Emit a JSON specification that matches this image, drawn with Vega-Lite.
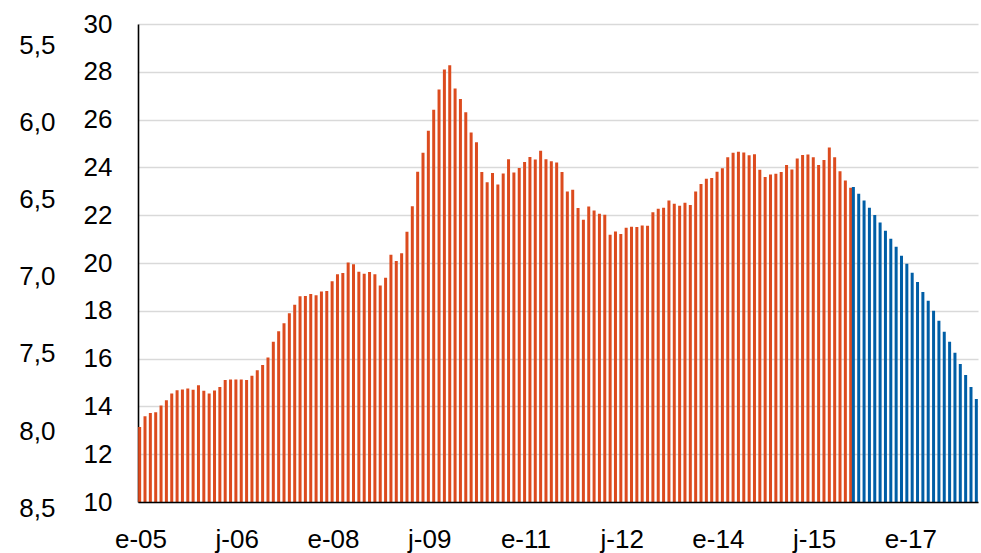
{
  "$schema": "https://vega.github.io/schema/vega-lite/v6.json",
  "autosize": {"type": "none"},
  "padding": {"left": 138, "top": 24, "right": 3, "bottom": 51},
  "width": 840,
  "height": 478,
  "config": {
    "font": "Liberation Sans",
    "view": {"stroke": null},
    "axis": {"labelColor": "#000000", "labelFontSize": 26, "labelFont": "Liberation Sans"}
  },
  "layer": [
    {
      "data": {"values": [
        {"mes":"2005-01","v":13.14,"serie":"hist"},{"mes":"2005-02","v":13.59,"serie":"hist"},{"mes":"2005-03","v":13.72,"serie":"hist"},{"mes":"2005-04","v":13.76,"serie":"hist"},{"mes":"2005-05","v":14.04,"serie":"hist"},{"mes":"2005-06","v":14.26,"serie":"hist"},{"mes":"2005-07","v":14.54,"serie":"hist"},{"mes":"2005-08","v":14.68,"serie":"hist"},{"mes":"2005-09","v":14.71,"serie":"hist"},{"mes":"2005-10","v":14.75,"serie":"hist"},{"mes":"2005-11","v":14.70,"serie":"hist"},{"mes":"2005-12","v":14.88,"serie":"hist"},
        {"mes":"2006-01","v":14.65,"serie":"hist"},{"mes":"2006-02","v":14.54,"serie":"hist"},{"mes":"2006-03","v":14.67,"serie":"hist"},{"mes":"2006-04","v":14.81,"serie":"hist"},{"mes":"2006-05","v":15.10,"serie":"hist"},{"mes":"2006-06","v":15.13,"serie":"hist"},{"mes":"2006-07","v":15.13,"serie":"hist"},{"mes":"2006-08","v":15.13,"serie":"hist"},{"mes":"2006-09","v":15.10,"serie":"hist"},{"mes":"2006-10","v":15.28,"serie":"hist"},{"mes":"2006-11","v":15.51,"serie":"hist"},{"mes":"2006-12","v":15.73,"serie":"hist"},
        {"mes":"2007-01","v":16.05,"serie":"hist"},{"mes":"2007-02","v":16.71,"serie":"hist"},{"mes":"2007-03","v":17.14,"serie":"hist"},{"mes":"2007-04","v":17.48,"serie":"hist"},{"mes":"2007-05","v":17.90,"serie":"hist"},{"mes":"2007-06","v":18.25,"serie":"hist"},{"mes":"2007-07","v":18.61,"serie":"hist"},{"mes":"2007-08","v":18.62,"serie":"hist"},{"mes":"2007-09","v":18.70,"serie":"hist"},{"mes":"2007-10","v":18.65,"serie":"hist"},{"mes":"2007-11","v":18.81,"serie":"hist"},{"mes":"2007-12","v":18.83,"serie":"hist"},
        {"mes":"2008-01","v":19.24,"serie":"hist"},{"mes":"2008-02","v":19.53,"serie":"hist"},{"mes":"2008-03","v":19.58,"serie":"hist"},{"mes":"2008-04","v":20.02,"serie":"hist"},{"mes":"2008-05","v":19.95,"serie":"hist"},{"mes":"2008-06","v":19.63,"serie":"hist"},{"mes":"2008-07","v":19.55,"serie":"hist"},{"mes":"2008-08","v":19.62,"serie":"hist"},{"mes":"2008-09","v":19.53,"serie":"hist"},{"mes":"2008-10","v":19.06,"serie":"hist"},{"mes":"2008-11","v":19.38,"serie":"hist"},{"mes":"2008-12","v":20.34,"serie":"hist"},
        {"mes":"2009-01","v":20.08,"serie":"hist"},{"mes":"2009-02","v":20.41,"serie":"hist"},{"mes":"2009-03","v":21.31,"serie":"hist"},{"mes":"2009-04","v":22.37,"serie":"hist"},{"mes":"2009-05","v":23.82,"serie":"hist"},{"mes":"2009-06","v":24.61,"serie":"hist"},{"mes":"2009-07","v":25.53,"serie":"hist"},{"mes":"2009-08","v":26.41,"serie":"hist"},{"mes":"2009-09","v":27.26,"serie":"hist"},{"mes":"2009-10","v":28.10,"serie":"hist"},{"mes":"2009-11","v":28.27,"serie":"hist"},{"mes":"2009-12","v":27.30,"serie":"hist"},
        {"mes":"2010-01","v":26.86,"serie":"hist"},{"mes":"2010-02","v":26.31,"serie":"hist"},{"mes":"2010-03","v":25.46,"serie":"hist"},{"mes":"2010-04","v":25.05,"serie":"hist"},{"mes":"2010-05","v":23.81,"serie":"hist"},{"mes":"2010-06","v":23.38,"serie":"hist"},{"mes":"2010-07","v":23.77,"serie":"hist"},{"mes":"2010-08","v":23.28,"serie":"hist"},{"mes":"2010-09","v":23.75,"serie":"hist"},{"mes":"2010-10","v":24.34,"serie":"hist"},{"mes":"2010-11","v":23.79,"serie":"hist"},{"mes":"2010-12","v":23.97,"serie":"hist"},
        {"mes":"2011-01","v":24.23,"serie":"hist"},{"mes":"2011-02","v":24.44,"serie":"hist"},{"mes":"2011-03","v":24.33,"serie":"hist"},{"mes":"2011-04","v":24.70,"serie":"hist"},{"mes":"2011-05","v":24.34,"serie":"hist"},{"mes":"2011-06","v":24.26,"serie":"hist"},{"mes":"2011-07","v":24.20,"serie":"hist"},{"mes":"2011-08","v":23.81,"serie":"hist"},{"mes":"2011-09","v":22.99,"serie":"hist"},{"mes":"2011-10","v":23.06,"serie":"hist"},{"mes":"2011-11","v":22.30,"serie":"hist"},{"mes":"2011-12","v":21.81,"serie":"hist"},
        {"mes":"2012-01","v":22.36,"serie":"hist"},{"mes":"2012-02","v":22.20,"serie":"hist"},{"mes":"2012-03","v":22.06,"serie":"hist"},{"mes":"2012-04","v":22.02,"serie":"hist"},{"mes":"2012-05","v":21.18,"serie":"hist"},{"mes":"2012-06","v":21.32,"serie":"hist"},{"mes":"2012-07","v":21.21,"serie":"hist"},{"mes":"2012-08","v":21.48,"serie":"hist"},{"mes":"2012-09","v":21.52,"serie":"hist"},{"mes":"2012-10","v":21.51,"serie":"hist"},{"mes":"2012-11","v":21.57,"serie":"hist"},{"mes":"2012-12","v":21.56,"serie":"hist"},
        {"mes":"2013-01","v":22.12,"serie":"hist"},{"mes":"2013-02","v":22.27,"serie":"hist"},{"mes":"2013-03","v":22.31,"serie":"hist"},{"mes":"2013-04","v":22.61,"serie":"hist"},{"mes":"2013-05","v":22.48,"serie":"hist"},{"mes":"2013-06","v":22.40,"serie":"hist"},{"mes":"2013-07","v":22.52,"serie":"hist"},{"mes":"2013-08","v":22.43,"serie":"hist"},{"mes":"2013-09","v":22.99,"serie":"hist"},{"mes":"2013-10","v":23.31,"serie":"hist"},{"mes":"2013-11","v":23.53,"serie":"hist"},{"mes":"2013-12","v":23.56,"serie":"hist"},
        {"mes":"2014-01","v":23.82,"serie":"hist"},{"mes":"2014-02","v":23.96,"serie":"hist"},{"mes":"2014-03","v":24.42,"serie":"hist"},{"mes":"2014-04","v":24.61,"serie":"hist"},{"mes":"2014-05","v":24.66,"serie":"hist"},{"mes":"2014-06","v":24.62,"serie":"hist"},{"mes":"2014-07","v":24.51,"serie":"hist"},{"mes":"2014-08","v":24.55,"serie":"hist"},{"mes":"2014-09","v":23.90,"serie":"hist"},{"mes":"2014-10","v":23.60,"serie":"hist"},{"mes":"2014-11","v":23.70,"serie":"hist"},{"mes":"2014-12","v":23.73,"serie":"hist"},
        {"mes":"2015-01","v":23.81,"serie":"hist"},{"mes":"2015-02","v":24.10,"serie":"hist"},{"mes":"2015-03","v":23.91,"serie":"hist"},{"mes":"2015-04","v":24.37,"serie":"hist"},{"mes":"2015-05","v":24.52,"serie":"hist"},{"mes":"2015-06","v":24.54,"serie":"hist"},{"mes":"2015-07","v":24.42,"serie":"hist"},{"mes":"2015-08","v":24.10,"serie":"hist"},{"mes":"2015-09","v":24.31,"serie":"hist"},{"mes":"2015-10","v":24.83,"serie":"hist"},{"mes":"2015-11","v":24.42,"serie":"hist"},{"mes":"2015-12","v":23.84,"serie":"hist"},
        {"mes":"2016-01","v":23.45,"serie":"hist"},{"mes":"2016-02","v":23.15,"serie":"hist"},
        {"mes":"2016-02","v":23.18,"serie":"proy"},{"mes":"2016-03","v":22.90,"serie":"proy"},{"mes":"2016-04","v":22.61,"serie":"proy"},{"mes":"2016-05","v":22.31,"serie":"proy"},{"mes":"2016-06","v":22.01,"serie":"proy"},{"mes":"2016-07","v":21.69,"serie":"proy"},{"mes":"2016-08","v":21.35,"serie":"proy"},{"mes":"2016-09","v":21.01,"serie":"proy"},{"mes":"2016-10","v":20.68,"serie":"proy"},{"mes":"2016-11","v":20.30,"serie":"proy"},{"mes":"2016-12","v":19.97,"serie":"proy"},
        {"mes":"2017-01","v":19.59,"serie":"proy"},{"mes":"2017-02","v":19.21,"serie":"proy"},{"mes":"2017-03","v":18.79,"serie":"proy"},{"mes":"2017-04","v":18.42,"serie":"proy"},{"mes":"2017-05","v":18.00,"serie":"proy"},{"mes":"2017-06","v":17.58,"serie":"proy"},{"mes":"2017-07","v":17.12,"serie":"proy"},{"mes":"2017-08","v":16.70,"serie":"proy"},{"mes":"2017-09","v":16.25,"serie":"proy"},{"mes":"2017-10","v":15.77,"serie":"proy"},{"mes":"2017-11","v":15.31,"serie":"proy"},{"mes":"2017-12","v":14.81,"serie":"proy"},
        {"mes":"2018-01","v":14.31,"serie":"proy"}
      ]},
      "mark": {"type": "bar", "width": 3, "clip": true},
      "encoding": {
        "x": {
          "field": "mes", "type": "ordinal", "sort": "ascending",
          "scale": {"paddingInner": 0, "paddingOuter": 0.061},
          "axis": {
            "title": null,
            "values": ["2005-01","2006-07","2008-01","2009-07","2011-01","2012-07","2014-01","2015-07","2017-01"],
            "labelExpr": "(substring(datum.value,5,7)=='01' ? 'e-' : 'j-') + substring(datum.value,2,4)",
            "labelAngle": 0,
            "ticks": false,
            "tickSize": 0,
            "labelPadding": 24,
            "domainColor": "#000000",
            "domainWidth": 1.6,
            "grid": false,
            "zindex": 1
          }
        },
        "xOffset": {"field": "serie", "type": "nominal", "scale": {"domain": ["hist","proy"], "paddingInner": 0, "paddingOuter": 0}},
        "y": {
          "field": "v", "type": "quantitative",
          "scale": {"domain": [10, 30], "nice": false, "zero": false},
          "axis": {
            "title": null,
            "values": [10,12,14,16,18,20,22,24,26,28,30],
            "ticks": false,
            "tickSize": 0,
            "labelPadding": 26,
            "labelFlush": false,
            "domainColor": "#000000",
            "domainWidth": 1.6,
            "grid": true,
            "gridColor": "#D9D9D9",
            "gridWidth": 1.5
          }
        },
        "color": {
          "field": "serie", "type": "nominal",
          "scale": {"domain": ["hist","proy"], "range": ["#DC4B1E", "#005EA6"]},
          "legend": null
        }
      }
    },
    {
      "data": {"values": [{"tc": 5.5}, {"tc": 8.5}]},
      "mark": {"type": "point", "opacity": 0},
      "encoding": {
        "y": {
          "field": "tc", "type": "quantitative",
          "scale": {"domain": [5.45, 8.546], "reverse": true, "nice": false, "zero": false},
          "axis": {
            "orient": "left",
            "title": null,
            "offset": 83,
            "values": [5.5, 6, 6.5, 7, 7.5, 8, 8.5],
            "labelExpr": "replace(format(datum.value, '.1f'), '.', ',')",
            "labelOffset": 13.3,
            "labelPadding": 0,
            "labelFlush": false,
            "labelOverlap": false,
            "ticks": false,
            "tickSize": 0,
            "domain": false,
            "grid": false
          }
        }
      }
    }
  ],
  "resolve": {"scale": {"y": "independent"}, "axis": {"y": "independent"}}
}
